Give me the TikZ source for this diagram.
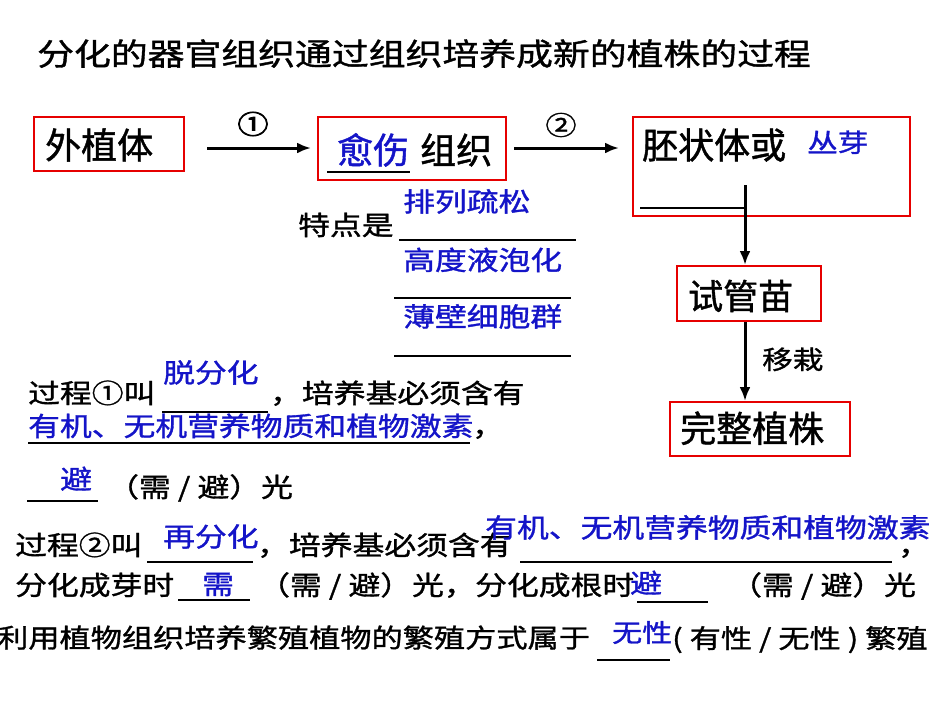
\documentclass[tikz,border=0pt]{standalone}
\usepackage{fontspec}
\newfontfamily\cjk[FakeBold=1.2]{Noto Sans CJK SC}
\newfontfamily\wide[FakeStretch=1.2,FakeBold=1.2]{Noto Sans CJK SC}
\newfontfamily\widebold[FakeStretch=1.2,FakeBold=3]{Noto Sans CJK SC}
\usetikzlibrary{arrows.meta,calc}
\definecolor{ansblue}{RGB}{20,20,200}
\definecolor{boxred}{RGB}{230,0,0}
\begin{document}
\begin{tikzpicture}[x=1pt,y=-1pt,
  box/.style={draw=boxred,line width=2pt,inner sep=0pt,anchor=north west},
  big/.style={font=\cjk\fontsize{36}{40}\selectfont,anchor=base west,inner sep=0pt},
  txt/.style={font=\wide\fontsize{26.5}{30}\selectfont,anchor=base west,inner sep=0pt},
  ans/.style={text=ansblue},
  arr/.style={line width=3pt,-{Latex[length=14pt,width=11pt]}},
  blank/.style={line width=2.4pt}]
\fill[white] (0,0) rectangle (950,713);
\useasboundingbox (0,0) rectangle (950,713);

% title
\node[txt,font=\wide\fontsize{30.7}{34}\selectfont] (title) at (37,65.3) {分化的器官组织通过组织培养成新的植株的过程};

% boxes
\node[box,minimum width=150pt,minimum height=54pt] (a) at (33,116) {};
\node[box,minimum width=188pt,minimum height=63pt] (b) at (317,116) {};
\node[box,minimum width=277pt,minimum height=99pt] (c) at (632,116) {};
\node[box,minimum width=144pt,minimum height=55pt] (d) at (676,265) {};
\node[box,minimum width=180pt,minimum height=54pt] (e) at (669,401) {};

% box texts
\node[big] (ta) at (45,158.7) {外植体};
\node[big,ans] (tb1) at (337,163.7) {愈伤};
\node[big] (tb2) at (420,163.7) {组织};
\draw[blank] (327,172) -- (410,172);
\node[big] (tc) at (642,158.7) {胚状体或};
\node[txt,ans,font=\wide\fontsize{25.5}{30}\selectfont] (tc2) at (807,152) {丛芽};
\node[big,font=\cjk\fontsize{35}{40}\selectfont] (td) at (688,309.3) {试管苗};
\node[big] (te) at (680,442) {完整植株};

% arrows
\node[font=\widebold\fontsize{26}{30}\selectfont,inner sep=0pt] (n1) at (253,124) {①};
\node[font=\wide\fontsize{26}{30}\selectfont,inner sep=0pt] (n2) at (561,125) {②};
\draw[arr] ($(a.east)+(22,4)$) -- ($(b.west)+(-6,-0.5)$);
\draw[arr] ($(b.east)+(7,-0.5)$) -- ($(c.west)+(-13,-18.5)$);
\coordinate (cs) at (745,185);
\draw[blank] (640,208) -- (745,208);
\draw[arr] (cs) -- (cs |- d.north);
\draw[arr] (cs |- d.south) -- (cs |- e.north);
\node[txt,font=\wide\fontsize{25.5}{30}\selectfont] (move) at (762,369) {移栽};

% features
\node[txt] (feat) at (298,235) {特点是};
\node[txt,ans] (f1) at (403,211.5) {排列疏松};
\node[txt,ans] (f2) at (403,270) {高度液泡化};
\node[txt,ans] (f3) at (403,326.5) {薄壁细胞群};
\draw[blank] (399,240) -- (576,240);
\draw[blank] (394,298) -- (571,298);
\draw[blank] (394,356) -- (571,356);

% process 1
\node[txt] (p1a) at (28,403) {过程①叫};
\node[txt,ans] (p1b) at (163,382.5) {脱分化};
\draw[blank] (162,412) -- (268,412);
\node[txt] (p1c) at (270,403) {，培养基必须含有};
\node[txt,ans] (p1d) at (28,436) {有机、无机营养物质和植物激素};
\draw[blank] (28,443) -- (470,443);
\node[txt] (p1e) at (472,436) {，};
\node[txt,ans] (p1f) at (60,489) {避};
\draw[blank] (27,501) -- (98,501);
\node[txt] (p1g) at (107,497) {（需 / 避）光};

% process 2
\node[txt] (p2a) at (15,555) {过程②叫};
\node[txt,ans] (p2b) at (163,546.5) {再分化};
\draw[blank] (147,562) -- (253,562);
\node[txt] (p2c) at (257,555) {，培养基必须含有};
\node[txt,ans] (p2d) at (485,537.5) {有机、无机营养物质和植物激素};
\draw[blank] (520,562) -- (892,562);
\node[txt] (p2e) at (898,555) {，};
\node[txt] (p2f) at (15,595) {分化成芽时};
\node[txt,ans] (p2g) at (202,594) {需};
\draw[blank] (178,600) -- (250,600);
\node[txt] (p2h) at (258,595) {（需 / 避）光，};
\node[txt] (p2i) at (475,595) {分化成根时};
\node[txt,ans] (p2j) at (630,593) {避};
\draw[blank] (637,602) -- (708,602);
\node[txt] (p2k) at (730,595) {（需 / 避）光};

% bottom line
\node[txt,font=\wide\fontsize{26}{30}\selectfont] (q1) at (-3,647.5) {利用植物组织培养繁殖植物的繁殖方式属于};
\node[txt,ans,font=\wide\fontsize{25}{30}\selectfont] (q2) at (612,642) {无性};
\draw[blank] (597,660) -- (670,660);
\node[txt,font=\wide\fontsize{26}{30}\selectfont] (q3) at (672,648) {( 有性 / 无性 ) 繁殖};
\end{tikzpicture}
\end{document}
